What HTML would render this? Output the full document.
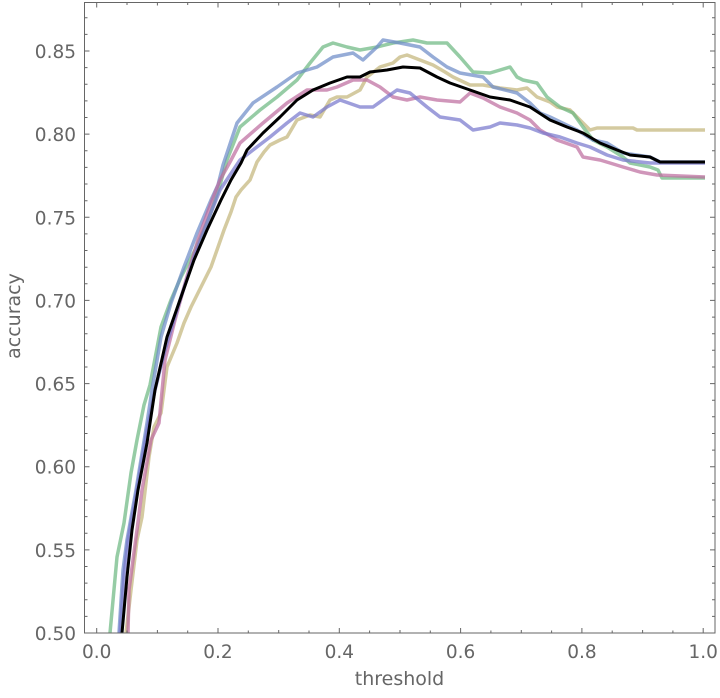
<!DOCTYPE html>
<html><head><meta charset="utf-8"><style>
html,body{margin:0;padding:0;background:#fff;}
svg{display:block;}
text{font-family:"DejaVu Sans","Liberation Sans",sans-serif;fill:#666;}
</style></head><body>
<svg width="720" height="698" viewBox="0 0 720 698" xmlns="http://www.w3.org/2000/svg">
<rect x="0" y="0" width="720" height="698" fill="#fff"/>
<g fill="none" stroke-linejoin="round" stroke-linecap="butt">
<polyline stroke="rgb(196,182,124)" stroke-opacity="0.72" stroke-width="3.5" points="126,633 131,590 137,540 142,517 149,457 154,427 161,413 164,390 167,367 177,343 184,323 191,307 201,287 211,267 217,250 224,230 231,212 236,197 241,190 250,180 257,162 264,152 270,145 280,140 287,137 297,120 310,115 320,117 330,100 337,97 347,97 360,90 367,77 380,67 393,63 400,57 407,55 420,60 433,65 445,72 453,77 470,85 483,85 500,88 517,90 527,88 537,97 550,102 557,107 570,110 583,123 590,130 597,128 633,128 637,130 705,130"/>
<polyline stroke="rgb(110,185,130)" stroke-opacity="0.72" stroke-width="3.5" points="110,633 117,557 124,523 131,473 137,440 144,405 150,385 161,327 171,300 181,277 195,250 210,215 220,185 227,160 240,127 260,110 277,97 297,80 310,63 323,47 333,43 347,47 360,50 377,47 393,43 413,40 427,43 447,43 460,57 473,72 490,73 510,67 517,77 523,80 537,83 547,97 560,107 573,113 583,127 593,140 607,147 623,157 630,163 650,167 658,170 662,178 705,178"/>
<polyline stroke="rgb(110,140,200)" stroke-opacity="0.72" stroke-width="3.5" points="119,633 123,570 127,540 136,490 147,423 152,390 161,337 171,303 184,267 197,233 211,200 218,185 223,165 228,150 237,123 253,103 277,87 297,73 317,67 333,57 353,53 363,60 377,47 383,40 400,43 420,47 433,57 447,67 460,73 483,77 493,87 517,93 530,103 540,113 550,117 577,130 593,140 607,143 623,153 650,157 660,162 705,162"/>
<polyline stroke="rgb(190,110,160)" stroke-opacity="0.72" stroke-width="3.5" points="128,633 129,590 137,530 142,490 151,440 159,423 165,360 175,320 186,280 198,240 211,203 220,180 230,162 240,143 263,123 287,103 307,90 327,90 337,87 353,80 367,80 380,87 393,97 407,100 420,97 437,100 460,102 470,93 483,98 500,107 517,113 530,120 540,130 557,140 577,147 583,157 600,160 610,163 623,167 640,172 657,175 705,177"/>
<polyline stroke="rgb(120,120,205)" stroke-opacity="0.72" stroke-width="3.5" points="120,633 124,575 128,540 136,495 147,430 155,390 165,350 180,300 195,255 210,215 220,190 230,175 240,160 253,150 270,137 287,123 300,113 313,117 327,107 340,100 360,107 373,107 387,97 397,90 410,93 427,107 440,117 460,120 473,130 490,127 500,123 517,125 530,128 543,133 560,137 577,143 590,147 607,155 623,160 650,163 705,163"/>
<polyline stroke="#000" stroke-width="3" points="122,633 127,577 132,530 138,490 147,443 155,390 167,337 181,297 194,260 207,230 221,200 231,180 241,163 247,150 263,133 280,117 297,100 313,90 330,83 347,77 360,77 370,72 387,70 403,67 420,68 437,77 450,83 470,90 490,97 510,100 530,107 550,120 567,127 583,133 600,143 617,150 630,155 650,157 660,162 705,162"/>
</g>
<g stroke="#666" stroke-width="1" fill="none">
<rect x="84.5" y="2.5" width="630.5" height="630.5"/>
<path d="M96.7,633v-5M218,633v-5M339.3,633v-5M460.6,633v-5M581.9,633v-5M703.2,633v-5
M96.7,2.5v5M218,2.5v5M339.3,2.5v5M460.6,2.5v5M581.9,2.5v5M703.2,2.5v5
M157.4,633v-3M278.7,633v-3M400,633v-3M521.3,633v-3M642.6,633v-3
M127,633v-2.5M187.7,633v-2.5M248.3,633v-2.5M309,633v-2.5M369.6,633v-2.5M430.3,633v-2.5M490.9,633v-2.5M551.6,633v-2.5M612.2,633v-2.5M672.9,633v-2.5
M157.4,2.5v3M278.7,2.5v3M400,2.5v3M521.3,2.5v3M642.6,2.5v3
M127,2.5v2.5M187.7,2.5v2.5M248.3,2.5v2.5M309,2.5v2.5M369.6,2.5v2.5M430.3,2.5v2.5M490.9,2.5v2.5M551.6,2.5v2.5M612.2,2.5v2.5M672.9,2.5v2.5"/>
</g>
<g stroke="#666" stroke-width="1">
<path d="M84.5,633h5M84.5,549.9h5M84.5,466.7h5M84.5,383.6h5M84.5,300.4h5M84.5,217.3h5M84.5,134.1h5M84.5,51h5
M715,633h-5M715,549.9h-5M715,466.7h-5M715,383.6h-5M715,300.4h-5M715,217.3h-5M715,134.1h-5M715,51h-5"/>
<path d="M84.5,616.4h3M84.5,599.7h3M84.5,583.1h3M84.5,566.5h3
M84.5,533.2h3M84.5,516.6h3M84.5,500h3M84.5,483.4h3
M84.5,450.1h3M84.5,433.5h3M84.5,416.8h3M84.5,400.2h3
M84.5,367h3M84.5,350.3h3M84.5,333.7h3M84.5,317.1h3
M84.5,283.8h3M84.5,267.2h3M84.5,250.5h3M84.5,233.9h3
M84.5,200.7h3M84.5,184h3M84.5,167.4h3M84.5,150.8h3
M84.5,117.5h3M84.5,100.9h3M84.5,84.3h3M84.5,67.6h3
M84.5,34.4h3M84.5,17.7h3
M715,616.4h-3M715,599.7h-3M715,583.1h-3M715,566.5h-3
M715,533.2h-3M715,516.6h-3M715,500h-3M715,483.4h-3
M715,450.1h-3M715,433.5h-3M715,416.8h-3M715,400.2h-3
M715,367h-3M715,350.3h-3M715,333.7h-3M715,317.1h-3
M715,283.8h-3M715,267.2h-3M715,250.5h-3M715,233.9h-3
M715,200.7h-3M715,184h-3M715,167.4h-3M715,150.8h-3
M715,117.5h-3M715,100.9h-3M715,84.3h-3M715,67.6h-3
M715,34.4h-3M715,17.7h-3"/>
</g>
<g font-size="18.5" text-anchor="end">
<text x="76" y="640">0.50</text>
<text x="76" y="556.9">0.55</text>
<text x="76" y="473.7">0.60</text>
<text x="76" y="390.6">0.65</text>
<text x="76" y="307.4">0.70</text>
<text x="76" y="224.3">0.75</text>
<text x="76" y="141.1">0.80</text>
<text x="76" y="58">0.85</text>
</g>
<g font-size="18.5" text-anchor="middle">
<text x="96.7" y="658">0.0</text>
<text x="218" y="658">0.2</text>
<text x="339.3" y="658">0.4</text>
<text x="460.6" y="658">0.6</text>
<text x="581.9" y="658">0.8</text>
<text x="703.2" y="658">1.0</text>
</g>
<text x="399.5" y="685" font-size="19" text-anchor="middle">threshold</text>
<text x="0" y="0" font-size="19" text-anchor="middle" transform="translate(20,316) rotate(-90)">accuracy</text>
</svg>
</body></html>
